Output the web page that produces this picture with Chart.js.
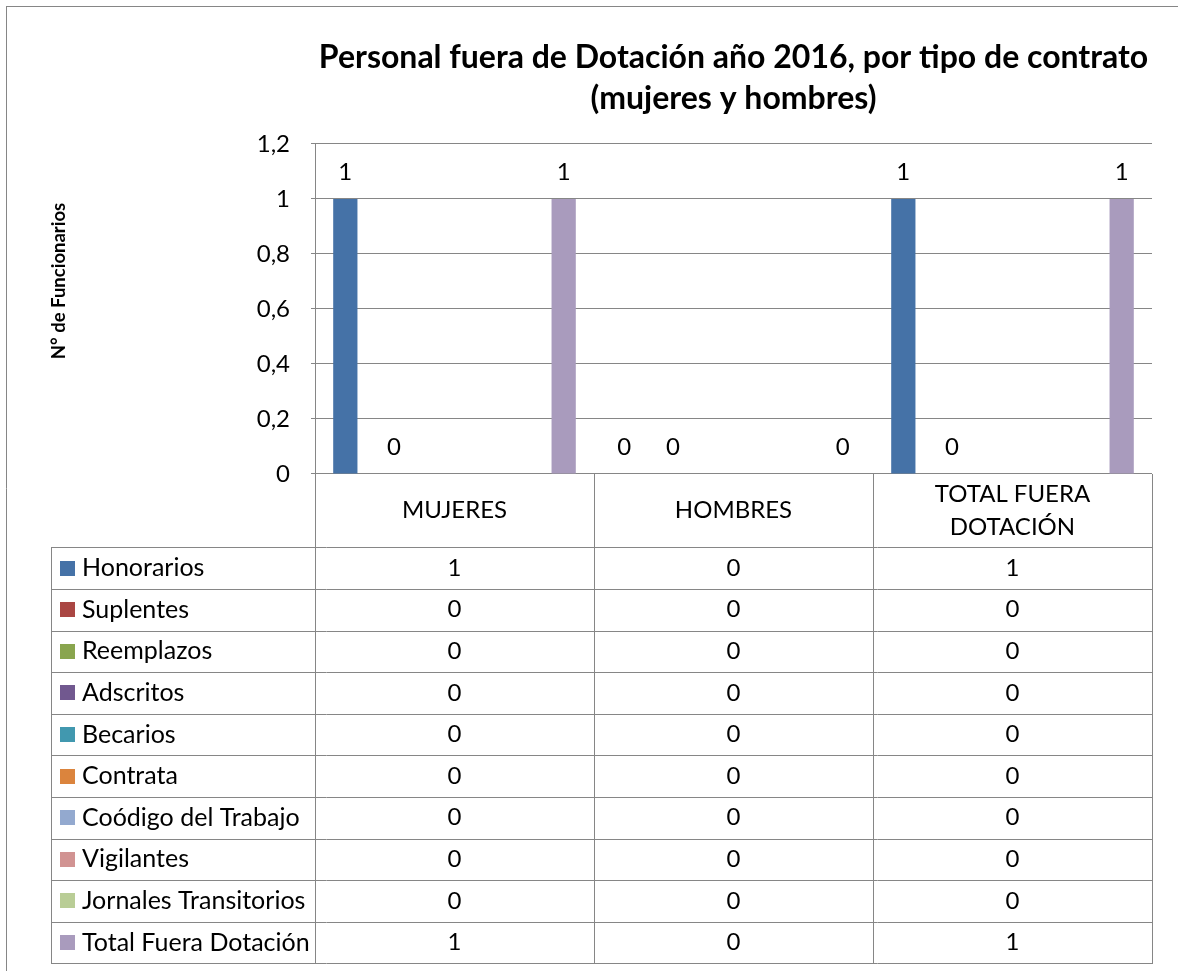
<!DOCTYPE html>
<html>
<head>
<meta charset="utf-8">
<script src="https://cdn.jsdelivr.net/npm/chart.js@4"></script>
<style>
  html, body { margin: 0; padding: 0; background: #ffffff; }
  canvas { display: block; }
</style>
</head>
<body>
<canvas id="chart" width="1178" height="971"></canvas>
<script>
// ---- Data ----
const categories = ['MUJERES', 'HOMBRES', 'TOTAL FUERA DOTACIÓN'];
const categoryHeaderLines = [['MUJERES'], ['HOMBRES'], ['TOTAL FUERA', 'DOTACIÓN']];
const seriesNames = ['Honorarios', 'Suplentes', 'Reemplazos', 'Adscritos', 'Becarios', 'Contrata',
  'Coódigo del Trabajo', 'Vigilantes', 'Jornales Transitorios', 'Total Fuera Dotación'];
const honorarios = [1, 0, 1];
const suplentes = [0, 0, 0];
const reemplazos = [0, 0, 0];
const adscritos = [0, 0, 0];
const becarios = [0, 0, 0];
const contrata = [0, 0, 0];
const codigoTrabajo = [0, 0, 0];
const vigilantes = [0, 0, 0];
const jornalesTransitorios = [0, 0, 0];
const totalFueraDotacion = [1, 0, 1];
const seriesValues = [honorarios, suplentes, reemplazos, adscritos, becarios, contrata,
  codigoTrabajo, vigilantes, jornalesTransitorios, totalFueraDotacion];
const labeledSeries = ['Honorarios', 'Reemplazos', 'Total Fuera Dotación'];
const yTickLabels = ['0', '0,2', '0,4', '0,6', '0,8', '1', '1,2'];
const titleLines = ['Personal fuera de Dotación año 2016, por tipo de contrato', '(mujeres y hombres)'];
const yAxisTitle = 'N° de Funcionarios';

// ---- Styles ----
const seriesColors = ['#4572A7', '#AA4643', '#89A54E', '#71588F', '#4198AF', '#DB843D',
  '#93A9CF', '#D19392', '#B9CD96', '#A99BBD'];
const FONT = 'Lato, "Open Sans", sans-serif';
const LINE = '#868686';

const tablePlugin = {
  id: 'excelTable',
  afterDraw(chart) {
    const ctx = chart.ctx;
    const ca = chart.chartArea;
    const n = categories.length;
    const colW = (ca.right - ca.left) / n;
    const headerH = 73.3;
    const rowH = 41.6;
    const tableTop = ca.bottom;
    const rowsTop = tableTop + headerH;
    const tableBottom = rowsTop + rowH * seriesNames.length;
    const legendLeft = 51;
    const px = v => Math.round(v) + 0.5;

    ctx.save();
    ctx.strokeStyle = LINE;
    ctx.lineWidth = 1;
    const hline = (x1, x2, y) => { ctx.beginPath(); ctx.moveTo(x1, px(y)); ctx.lineTo(x2, px(y)); ctx.stroke(); };
    const vline = (x, y1, y2) => { ctx.beginPath(); ctx.moveTo(px(x), y1); ctx.lineTo(px(x), y2); ctx.stroke(); };

    // outer chart border (cropped on right and bottom)
    hline(6, chart.width, 6);
    vline(6, 6, chart.height);

    // table grid
    for (let i = 0; i <= n; i++) vline(ca.left + i * colW, tableTop, px(tableBottom));
    vline(legendLeft, px(rowsTop), px(tableBottom));
    for (let r = 0; r <= seriesNames.length; r++) hline(legendLeft, ca.right + 1, rowsTop + r * rowH);

    ctx.fillStyle = '#000';
    ctx.textBaseline = 'middle';
    ctx.textAlign = 'center';
    ctx.font = '24px ' + FONT;

    // header category labels
    for (let i = 0; i < n; i++) {
      const cx = ca.left + (i + 0.5) * colW;
      const lines = categoryHeaderLines[i];
      const cy = tableTop + headerH / 2;
      const lh = 33;
      lines.forEach((t, k) => {
        ctx.fillText(t, cx, cy + (k - (lines.length - 1) / 2) * lh);
      });
    }

    // rows
    chart.data.datasets.forEach((ds, s) => {
      const cy = rowsTop + (s + 0.5) * rowH;
      ctx.fillStyle = ds.backgroundColor;
      ctx.fillRect(60, Math.round(cy - 7.5), 15, 15);
      ctx.fillStyle = '#000';
      ctx.textAlign = 'left';
      ctx.font = '25px ' + FONT;
      ctx.fillText(ds.label, 82, cy);
      ctx.textAlign = 'center';
      ctx.font = '24px ' + FONT;
      ds.data.forEach((v, j) => {
        ctx.fillText(String(v), ca.left + (j + 0.5) * colW, cy);
      });
    });

    // data labels on selected series
    chart.data.datasets.forEach((ds, s) => {
      if (!labeledSeries.includes(ds.label)) return;
      const meta = chart.getDatasetMeta(s);
      meta.data.forEach((bar, j) => {
        ctx.fillText(String(ds.data[j]), bar.x, bar.y - 27);
      });
    });

    // y axis title
    ctx.save();
    ctx.translate(59, 281);
    ctx.rotate(-Math.PI / 2);
    ctx.font = 'bold 18.5px ' + FONT;
    ctx.fillText(yAxisTitle, 0, 0);
    ctx.restore();

    ctx.restore();
  }
};

const chart = new Chart(document.getElementById('chart'), {
  type: 'bar',
  data: {
    labels: categories,
    datasets: seriesNames.map((name, i) => ({
      label: name,
      data: seriesValues[i],
      backgroundColor: seriesColors[i],
      borderWidth: 0,
      categoryPercentage: 10 / 11.5,
      barPercentage: 1.0
    }))
  },
  options: {
    responsive: false,
    animation: false,
    devicePixelRatio: 1,
    layout: { padding: { left: 0, right: 26, top: 0, bottom: 497 } },
    plugins: {
      legend: { display: false },
      tooltip: { enabled: false },
      title: {
        display: true,
        text: titleLines,
        fullSize: false,
        color: '#000',
        font: { family: FONT, size: 32, weight: 'bold', lineHeight: 1.28 },
        padding: { top: 37, bottom: 25 }
      }
    },
    scales: {
      x: { display: false },
      y: {
        min: 0,
        max: 1.2,
        ticks: {
          stepSize: 0.2,
          color: '#000',
          font: { family: FONT, size: 24 },
          padding: 21,
          callback: (v, i) => yTickLabels[i]
        },
        grid: { color: LINE, lineWidth: 1, tickLength: 4, drawTicks: true },
        border: { color: LINE, width: 1 },
        afterFit: s => { s.width = 315; }
      }
    }
  },
  plugins: [tablePlugin]
});
</script>
</body>
</html>
